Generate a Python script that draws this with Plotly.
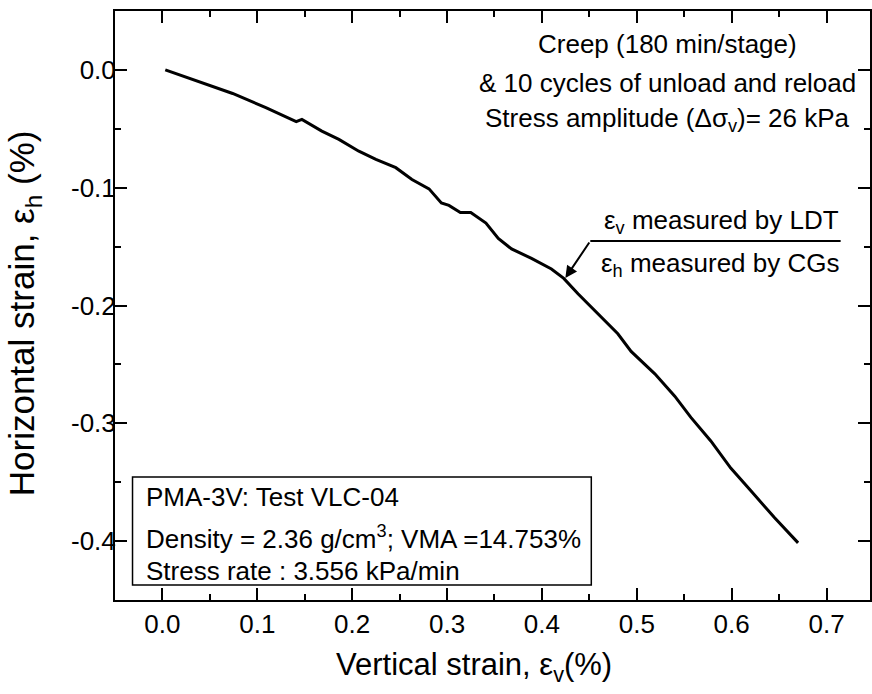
import plotly.graph_objects as go

# Data
vertical_strain = [0.003, 0.021, 0.074, 0.109, 0.141, 0.147, 0.168, 0.186, 0.207, 0.225,
                   0.246, 0.263, 0.281, 0.294, 0.302, 0.314, 0.325, 0.341, 0.354, 0.368,
                   0.389, 0.410, 0.423, 0.438, 0.459, 0.480, 0.494, 0.519, 0.540, 0.557,
                   0.578, 0.599, 0.620, 0.645, 0.670]
horizontal_strain = [0.0, -0.005, -0.020, -0.032, -0.044, -0.042, -0.052, -0.059, -0.069, -0.076,
                     -0.083, -0.093, -0.101, -0.113, -0.115, -0.121, -0.121, -0.130, -0.143, -0.152,
                     -0.160, -0.169, -0.177, -0.190, -0.207, -0.224, -0.239, -0.258, -0.277, -0.295,
                     -0.315, -0.338, -0.357, -0.380, -0.4015]

x_tick_vals = [0.0, 0.1, 0.2, 0.3, 0.4, 0.5, 0.6, 0.7]
x_tick_text = ["0.0", "0.1", "0.2", "0.3", "0.4", "0.5", "0.6", "0.7"]
y_tick_vals = [0.0, -0.1, -0.2, -0.3, -0.4]
y_tick_text = ["0.0", "-0.1", "-0.2", "-0.3", "-0.4"]

FONT = "Liberation Sans, Arial, sans-serif"

fig = go.Figure()
fig.add_trace(go.Scatter(x=vertical_strain, y=horizontal_strain, mode="lines",
                         line=dict(color="black", width=3), showlegend=False))

axis_common = dict(showline=True, linecolor="black", linewidth=2, mirror="ticks",
                   ticks="inside", ticklen=12, tickwidth=2, tickcolor="black",
                   showgrid=False, zeroline=False,
                   tickfont=dict(family=FONT, size=26, color="black"),
                   minor=dict(ticks="inside", ticklen=6, tickwidth=2, tickcolor="black", dtick=0.05))

fig.update_xaxes(range=[-0.05, 0.7458], tickvals=x_tick_vals, ticktext=x_tick_text, **axis_common)
fig.update_yaxes(range=[-0.45, 0.05], tickvals=y_tick_vals, ticktext=y_tick_text,
                 ticklabelstandoff=-8, **axis_common)

def px_to_x(p):
    return (p - 163) / 951.25

def py_to_y(p):
    return (69.9 - p) / 1178.0

def px_paper(p):
    return (p - 115) / 757.0

def py_paper(p):
    return (600 - p) / 589.0

annos = []
# Top-right text block
for txt, yp in [("Creep (180 min/stage)", 44),
                ("&amp; 10 cycles of unload and reload", 83),
                ("Stress amplitude (Δσ<sub>v</sub>)= 26 kPa", 119)]:
    annos.append(dict(x=px_to_x(669), y=py_to_y(yp), xref="x", yref="y", text=txt,
                      showarrow=False, xanchor="center", yanchor="middle",
                      font=dict(family=FONT, size=26, color="black")))
# LDT / CG labels
annos.append(dict(x=px_to_x(843), y=py_to_y(221), xref="x", yref="y",
                  text="ε<sub>v</sub> measured by LDT", showarrow=False,
                  xanchor="right", yanchor="middle", font=dict(family=FONT, size=26, color="black")))
annos.append(dict(x=px_to_x(843), y=py_to_y(264), xref="x", yref="y",
                  text="ε<sub>h</sub> measured by CGs", showarrow=False,
                  xanchor="right", yanchor="middle", font=dict(family=FONT, size=26, color="black")))
annos.append(dict(x=px_to_x(567), y=py_to_y(278), xref="x", yref="y",
                  ax=px_to_x(592), ay=py_to_y(241), axref="x", ayref="y",
                  text="", showarrow=True, arrowhead=2, arrowsize=1.2, arrowwidth=2, arrowcolor="black"))
# Info box text
for txt, yp in [("PMA-3V: Test VLC-04", 497),
                ("Density = 2.36 g/cm<sup>3</sup>; VMA =14.753%", 537),
                ("Stress rate : 3.556 kPa/min", 571)]:
    annos.append(dict(x=px_to_x(145), y=py_to_y(yp), xref="x", yref="y", text=txt,
                      showarrow=False, xanchor="left", yanchor="middle",
                      font=dict(family=FONT, size=26, color="black")))
# Axis titles (paper coordinates, outside plot area)
annos.append(dict(x=px_paper(475), y=py_paper(667), xref="paper", yref="paper",
                  text="Vertical strain, ε<sub>v</sub>(%)", showarrow=False,
                  xanchor="center", yanchor="middle", font=dict(family=FONT, size=31, color="black")))
annos.append(dict(x=px_paper(24), y=py_paper(313), xref="paper", yref="paper",
                  text="Horizontal strain, ε<sub>h</sub> (%)", showarrow=False, textangle=-90,
                  xanchor="center", yanchor="middle", font=dict(family=FONT, size=35, color="black")))

shapes = [
    dict(type="line", xref="x", yref="y", x0=px_to_x(592), x1=px_to_x(843),
         y0=py_to_y(241), y1=py_to_y(241), line=dict(color="black", width=2)),
    dict(type="rect", xref="x", yref="y", x0=px_to_x(133), x1=px_to_x(593),
         y0=py_to_y(477), y1=py_to_y(585), line=dict(color="black", width=1.5)),
]

fig.update_layout(width=872, height=694, margin=dict(l=115, r=0, t=11, b=94),
                  plot_bgcolor="white", paper_bgcolor="white",
                  annotations=annos, shapes=shapes,
                  font=dict(family=FONT, color="black"))

fig.write_html("out.html", config={"displayModeBar": False},
               post_script="document.body.style.margin='0';document.body.style.overflow='hidden';")
